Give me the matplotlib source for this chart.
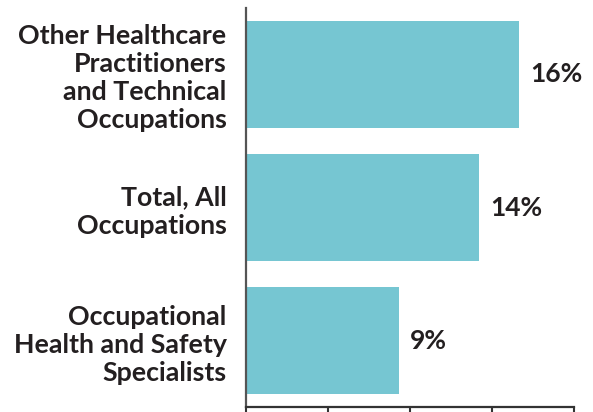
import numpy as np
import matplotlib
matplotlib.use("Agg")
from matplotlib import pyplot as plt

# categories (top to bottom) and values in percent
categories = ["Other Healthcare\nPractitioners\nand Technical\nOccupations",
              "Total, All\nOccupations",
              "Occupational\nHealth and Safety\nSpecialists"]
values = [16.6, 14.2, 9.3]
value_labels = ["16%", "14%", "9%"]
x_ticks = [0, 5, 10, 15, 20]

bar_color = "#76c6d2"
text_color = "#231f20"

plt.rcParams['font.family'] = ['Lato', 'DejaVu Sans']

fig = plt.figure(figsize=(5.93, 4.12), dpi=100)
ax = fig.add_axes([0.4148, 0.0121, 0.9688 - 0.4148, 0.9806 - 0.0121])

y = np.arange(len(categories))
ax.barh(y, values, height=0.81, color=bar_color)
ax.set_ylim(2.5, -0.5)
ax.set_xlim(0, 20)

ax.set_yticks(y)
ax.set_yticklabels(categories, fontsize=19.3, fontweight='bold', color=text_color,
                   linespacing=1.2)
ax.tick_params(axis='y', length=0, pad=14)

ax.set_xticks(x_ticks)
ax.set_xticklabels([])
ax.tick_params(axis='x', length=12, width=1.5, color="#333333", direction='out')

#value labels next to the bars
for yi, v, lab in zip(y, values, value_labels):
    ax.annotate(lab, (v, yi), xytext=(8, 0), textcoords='offset points',
                va='center', ha='left', fontsize=19, fontweight='bold',
                color=text_color)

for s in ['top', 'right']:
    ax.spines[s].set_visible(False)
ax.spines['left'].set_color("#555555")
ax.spines['left'].set_linewidth(1.6)
ax.spines['bottom'].set_color("#333333")
ax.spines['bottom'].set_linewidth(1.6)

fig.savefig("out.png", dpi=100)
